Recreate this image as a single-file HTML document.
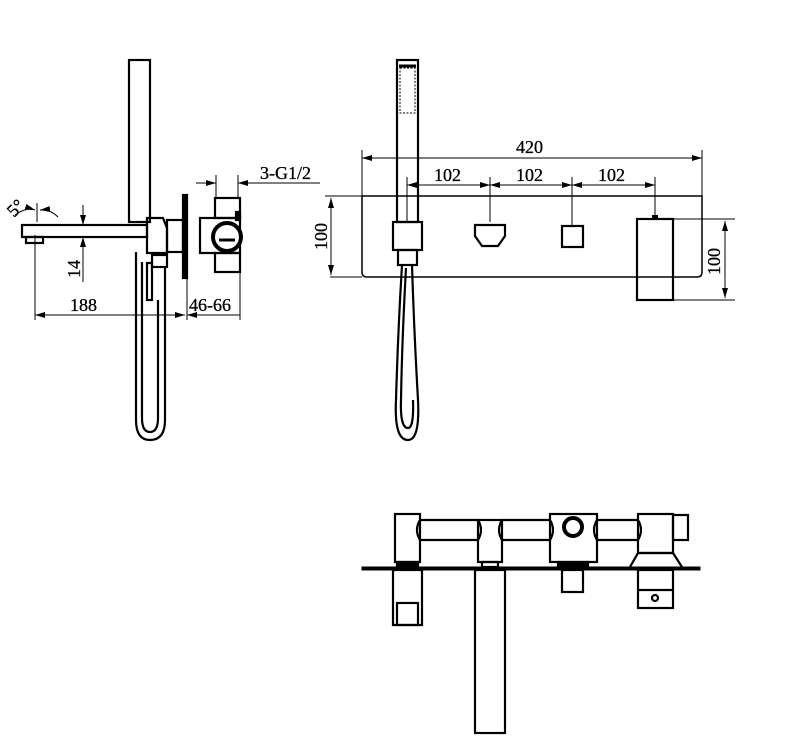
<!DOCTYPE html>
<html><head><meta charset="utf-8"><style>
html,body{margin:0;padding:0;background:#fff;width:809px;height:751px;overflow:hidden}
svg{display:block}
text{font-family:"Liberation Serif",serif;font-size:18px;fill:#000;stroke:#000;stroke-width:0.3}
</style></head><body>
<svg width="809" height="751" viewBox="0 0 809 751" xmlns="http://www.w3.org/2000/svg">
<defs>
<marker id="a" viewBox="0 0 10 6" refX="10" refY="3" markerWidth="10" markerHeight="6" orient="auto-start-reverse" markerUnits="userSpaceOnUse"><path d="M0,0L10,3L0,6z" fill="#000"/></marker>
</defs>
<g fill="none" stroke="#000" stroke-width="2.2">
<!-- LEFT VIEW -->
<rect x="129" y="60" width="21" height="162"/>
<rect x="22" y="225" width="125" height="12"/>
<rect x="26" y="237" width="17" height="6"/>
<path d="M147,218 H163 L167,228 V253 H147 Z"/>
<rect x="152" y="255" width="15" height="12"/>
<rect x="147" y="263" width="5" height="37"/>
<path d="M136,252 V420 Q136,440 150,440 Q165,440 165,420 V268"/>
<path d="M142,262 V418 Q142,432 150,432 Q158,432 158,418 V300"/>
<rect x="167" y="220" width="16" height="32"/>
<rect x="183" y="195" width="4" height="83" fill="#000"/>
<rect x="200" y="218" width="40" height="35"/>
<rect x="215" y="198" width="25" height="20"/>
<rect x="215" y="253" width="25" height="19"/>
<circle cx="227" cy="237" r="14" stroke-width="4"/>
<line x1="219" y1="240" x2="235" y2="240" stroke-width="3"/>
<rect x="236" y="212" width="4" height="8" fill="#000"/>
</g>
<g stroke="#000" stroke-width="1" fill="none">
<line x1="216" y1="175" x2="216" y2="198"/>
<line x1="238" y1="175" x2="238" y2="198"/>
<line x1="196" y1="183" x2="216" y2="183" marker-end="url(#a)"/>
<line x1="320" y1="183" x2="238" y2="183" marker-end="url(#a)"/>
<line x1="35" y1="235" x2="35" y2="320"/>
<line x1="187" y1="278" x2="187" y2="320"/>
<line x1="240" y1="255" x2="240" y2="320"/>
<line x1="35" y1="315" x2="185" y2="315" marker-start="url(#a)" marker-end="url(#a)"/>
<line x1="187" y1="315" x2="240" y2="315" marker-start="url(#a)"/>
<line x1="83" y1="205" x2="83" y2="225" marker-end="url(#a)"/>
<line x1="83" y1="282" x2="83" y2="237" marker-end="url(#a)"/>
<line x1="37" y1="203" x2="37" y2="222"/>
<path d="M15,215 Q26,207 35,210" marker-end="url(#a)"/>
<path d="M58,217 Q50,209 40,210" marker-end="url(#a)"/>
</g>
<text x="260" y="179">3-G1/2</text>
<text x="70" y="311">188</text>
<text x="189" y="311">46-66</text>
<text transform="translate(80,278) rotate(-90)">14</text>
<text transform="translate(14,218) rotate(-45)">5°</text>

<!-- MIDDLE VIEW -->
<g fill="none" stroke="#000" stroke-width="2.2">
<path d="M362,196 H702 V272 Q702,277 697,277 H367 Q362,277 362,272 Z" stroke-width="1.5"/>
<rect x="397" y="60" width="21" height="162"/>
<rect x="400" y="68" width="15" height="45" stroke-width="1" stroke-dasharray="2,1.5"/>
<line x1="399" y1="66" x2="416" y2="66" stroke-width="3"/>
<rect x="393" y="222" width="29" height="28"/>
<rect x="398" y="250" width="19" height="15"/>
<path d="M402,265 Q398,330 396,400 Q394,440 408,440 Q420,440 418,400 Q414,330 412,265"/>
<path d="M406,268 Q402,340 401,400 Q400,428 408,428 Q414,428 413,400"/>
<path d="M475,225 H505 V236 L498,246 H482 L475,236 Z"/>
<rect x="562" y="226" width="21" height="21"/>
<rect x="637" y="219" width="36" height="81"/>
</g>
<rect x="652" y="215" width="6" height="4" fill="#000"/>
<g stroke="#000" stroke-width="1" fill="none">
<line x1="325" y1="196" x2="362" y2="196"/>
<line x1="330" y1="277" x2="362" y2="277"/>
<line x1="331" y1="198" x2="331" y2="275" marker-start="url(#a)" marker-end="url(#a)"/>
<line x1="362" y1="150" x2="362" y2="196"/>
<line x1="702" y1="150" x2="702" y2="196"/>
<line x1="362" y1="158" x2="702" y2="158" marker-start="url(#a)" marker-end="url(#a)"/>
<line x1="407" y1="177" x2="407" y2="222"/>
<line x1="490" y1="177" x2="490" y2="222"/>
<line x1="572" y1="177" x2="572" y2="225"/>
<line x1="655" y1="177" x2="655" y2="215"/>
<line x1="407" y1="185" x2="490" y2="185" marker-start="url(#a)" marker-end="url(#a)"/>
<line x1="490" y1="185" x2="572" y2="185" marker-start="url(#a)" marker-end="url(#a)"/>
<line x1="572" y1="185" x2="655" y2="185" marker-start="url(#a)" marker-end="url(#a)"/>
<line x1="673" y1="219" x2="735" y2="219"/>
<line x1="673" y1="300" x2="735" y2="300"/>
<line x1="725" y1="221" x2="725" y2="298" marker-start="url(#a)" marker-end="url(#a)"/>
</g>
<text x="516" y="153">420</text>
<text x="434" y="181">102</text>
<text x="516" y="181">102</text>
<text x="598" y="181">102</text>
<text transform="translate(327,250) rotate(-90)">100</text>
<text transform="translate(720,275) rotate(-90)">100</text>

<!-- BOTTOM VIEW -->
<g fill="none" stroke="#000" stroke-width="2.2">
<rect x="362" y="567" width="338" height="3" fill="#000" stroke-width="1"/>
<path d="M420,520 H478 M420,540 H478 M502,520 H550 M502,540 H550 M597,520 H638 M597,540 H638"/>
<path d="M420,520 Q414,530 420,540 M478,520 Q484,530 478,540 M502,520 Q496,530 502,540 M550,520 Q556,530 550,540 M597,520 Q591,530 597,540 M638,520 Q644,530 638,540"/>
<rect x="395" y="514" width="25" height="48"/>
<rect x="397" y="562" width="21" height="5" fill="#000"/>
<rect x="393" y="570" width="29" height="55"/>
<rect x="397" y="603" width="21" height="22"/>
<rect x="478" y="520" width="24" height="42"/>
<rect x="482" y="562" width="16" height="5"/>
<rect x="475" y="570" width="30" height="163"/>
<rect x="550" y="514" width="47" height="48"/>
<circle cx="573" cy="527" r="9" stroke-width="4"/>
<rect x="558" y="562" width="30" height="5" fill="#000"/>
<rect x="562" y="570" width="21" height="22"/>
<rect x="638" y="514" width="35" height="39"/>
<rect x="673" y="515" width="15" height="25"/>
<path d="M630,567 L638,553 H673 L682,567" />
<rect x="638" y="570" width="35" height="38"/>
<line x1="638" y1="590" x2="673" y2="590"/>
<circle cx="655" cy="598" r="3"/>
</g>
</svg>
</body></html>
